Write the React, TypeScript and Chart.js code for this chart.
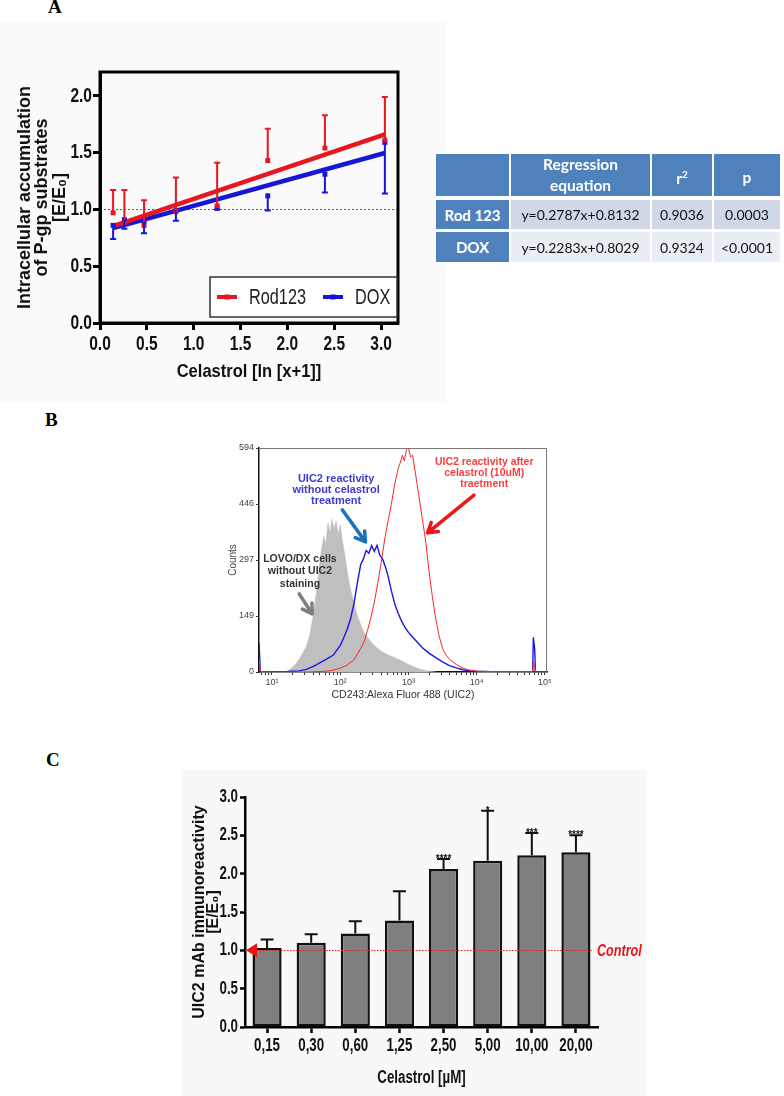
import React, { useEffect, useRef } from 'react';
import { Chart, registerables } from 'chart.js';

Chart.register(...registerables);

const SANS = "'Liberation Sans', Arial, Helvetica, sans-serif";
const NARROW = "'Liberation Sans Narrow', 'Liberation Sans', Arial, sans-serif";
const SEMI = "'Liberation Sans Semi Narrow', 'Liberation Sans', Arial, sans-serif";
const SERIF = "'Liberation Serif', 'Times New Roman', serif";
const TABLE_FONT = "Lato, 'Open Sans', sans-serif";

// ---------------- Panel A data ----------------
const aCelastrolLn = [0.14, 0.26, 0.47, 0.81, 1.25, 1.79, 2.40, 3.04];
const aRodMean = [0.97, 0.88, 0.86, 0.98, 1.03, 1.43, 1.54, 1.61];
const aRodUpper = [1.17, 1.17, 1.08, 1.28, 1.41, 1.71, 1.83, 1.99];
const aDoxMean = [0.86, 0.91, 0.89, 0.99, 1.01, 1.12, 1.31, 1.59];
const aDoxLower = [0.74, 0.83, 0.79, 0.90, 1.00, 0.99, 1.15, 1.14];
const aFitX = [0.14, 3.04];
const aRodFitY = [0.852, 1.660];
const aDoxFitY = [0.835, 1.497];
const aSeriesNames = ['Rod123', 'DOX'];
const aRefValue = 1.0;
const aXTitle = 'Celastrol [ln [x+1]]';
const aYTitle = ['Intracellular accumulation', 'of P-gp substrates', '[E/E\u2080]'];

// ---------------- Table data ----------------
const tRowNames = ['Rod 123', 'DOX'];
const tEquations = ['y=0.2787x+0.8132', 'y=0.2283x+0.8029'];
const tR2 = ['0.9036', '0.9324'];
const tP = ['0.0003', '<0.0001'];

// ---------------- Panel B data (log10 fluorescence, counts) ----------------
const bGrayLog = [1.20, 1.25, 1.30, 1.35, 1.40, 1.45, 1.50, 1.55, 1.60, 1.65, 1.70, 1.73, 1.76, 1.79, 1.82, 1.85, 1.88, 1.91, 1.94, 1.97, 2.00, 2.03, 2.06, 2.10, 2.15, 2.20, 2.25, 2.30, 2.35, 2.40, 2.45, 2.50, 2.60, 2.70, 2.80, 2.90, 3.00, 3.10, 3.20, 3.30, 3.40];
const bGrayCount = [0, 5, 12, 22, 35, 50, 66, 95, 145, 210, 290, 330, 360, 340, 395, 370, 405, 380, 400, 365, 390, 350, 320, 270, 220, 185, 150, 125, 105, 92, 80, 70, 55, 45, 38, 30, 20, 12, 6, 2, 0];
const bBlueLog = [0.81, 0.83, 1.00, 1.20, 1.30, 1.40, 1.50, 1.60, 1.70, 1.80, 1.90, 1.95, 2.00, 2.05, 2.10, 2.15, 2.20, 2.25, 2.30, 2.34, 2.38, 2.42, 2.46, 2.50, 2.54, 2.58, 2.62, 2.66, 2.70, 2.75, 2.80, 2.85, 2.90, 2.95, 3.00, 3.05, 3.10, 3.15, 3.20, 3.30, 3.40, 3.50, 3.60, 3.70, 3.80, 3.90, 4.00, 4.20, 4.50, 4.82, 4.83, 4.85, 4.86, 5.02];
const bBlueCount = [77, 1, 1, 1, 2, 3, 7, 14, 24, 34, 45, 58, 70, 90, 112, 140, 180, 235, 285, 300, 322, 315, 335, 320, 336, 310, 300, 280, 255, 215, 180, 155, 135, 118, 105, 95, 85, 75, 65, 50, 38, 27, 17, 11, 6, 3, 2, 1, 1, 1, 92, 60, 0, 0];
const bRedLog = [0.81, 0.83, 1.00, 1.50, 1.80, 1.90, 2.00, 2.10, 2.20, 2.30, 2.35, 2.40, 2.45, 2.50, 2.55, 2.60, 2.65, 2.70, 2.75, 2.80, 2.85, 2.88, 2.91, 2.94, 2.97, 3.00, 3.03, 3.06, 3.10, 3.15, 3.20, 3.25, 3.30, 3.35, 3.40, 3.45, 3.50, 3.55, 3.60, 3.70, 3.80, 3.90, 4.00, 4.30, 4.82, 4.83, 4.85, 4.86, 5.02];
const bRedCount = [37, 1, 0, 0, 2, 5, 10, 18, 32, 62, 80, 110, 145, 185, 235, 290, 350, 400, 445, 500, 540, 555, 575, 560, 590, 594, 570, 575, 530, 470, 410, 350, 270, 200, 140, 95, 62, 45, 34, 20, 10, 5, 2, 1, 1, 26, 15, 0, 0];
const bLogMin = 0.81;
const bLogMax = 5.03;
const bCountTicks = [0, 148.5, 297, 445.5, 594];
const bCountLabels = ['0', '149', '297', '446', '594'];
const bMajorTicks = [10, 100, 1000, 10000, 100000];
const bMajorLabels = ['10\u00b9', '10\u00b2', '10\u00b3', '10\u2074', '10\u2075'];
const bXTitle = 'CD243:Alexa Fluor 488 (UIC2)';
const bYTitle = 'Counts';
const bNoteLines = [
  ['UIC2 reactivity', 'without celastrol', 'treatment'],
  ['UIC2 reactivity after', 'celastrol (10uM)', 'traetment'],
  ['LOVO/DX cells', 'without UIC2', 'staining'],
];
const bNoteLog = [1.94, 4.11, 1.41];
const bNoteCount = [512, 557, 300];
const bNoteColor = ['#3b3bd4', '#ff3a3a', '#333333'];
const bArrowFrom = [[2.03, 430], [3.96, 469], [1.40, 207]];
const bArrowTo = [[2.37, 345], [3.28, 369], [1.59, 154]];
const bArrowColor = ['#1c72b8', '#ee1616', '#808080'];

// ---------------- Panel C data ----------------
const cConcLabels = ['0,15', '0,30', '0,60', '1,25', '2,50', '5,00', '10,00', '20,00'];
const cMean = [1.03, 1.10, 1.22, 1.39, 2.06, 2.17, 2.24, 2.28];
const cUpper = [1.14, 1.21, 1.38, 1.77, 2.19, 2.82, 2.53, 2.50];
const cStars = ['', '', '', '', '****', '*', '***', '****'];
const cControlValue = 1.0;
const cControlLabel = 'Control';
const cXTitle = 'Celastrol [\u00b5M]';
const cYTitle = ['UIC2 mAb immunoreactivity', '[E/E\u2080]'];

const A_RED = '#e8161e';
const A_BLUE = '#1616d8';

// condensed text: scale glyphs horizontally for the "narrow" families
function condenseText(ctx: any) {
  const orig = ctx.fillText;
  ctx.fillText = function (text: string, x: number, y: number, maxWidth?: number) {
    const f = String(ctx.font);
    const k = f.indexOf('Semi') >= 0 ? 0.87 : f.indexOf('Narrow') >= 0 ? 0.74 : 1;
    if (k === 1) {
      return maxWidth === undefined ? orig.call(ctx, text, x, y) : orig.call(ctx, text, x, y, maxWidth);
    }
    ctx.save();
    ctx.translate(x, y);
    ctx.scale(k, 1);
    if (maxWidth === undefined) orig.call(ctx, text, 0, 0);
    else orig.call(ctx, text, 0, 0, maxWidth / k);
    ctx.restore();
  };
}

// ---------------- plugins ----------------
const errorBarPlugin = {
  id: 'errorBars',
  afterDatasetsDraw(chart: any) {
    const ctx = chart.ctx;
    chart.data.datasets.forEach((ds: any, i: number) => {
      if (!ds.errEnds) return;
      const meta = chart.getDatasetMeta(i);
      const yScale = chart.scales[meta.yAxisID];
      ctx.save();
      ctx.strokeStyle = ds.errColor;
      ctx.lineWidth = ds.errWidth;
      meta.data.forEach((el: any, j: number) => {
        const x = el.x;
        const y0 = el.y;
        const y1 = yScale.getPixelForValue(ds.errEnds[j]);
        ctx.beginPath();
        ctx.moveTo(x, y0);
        ctx.lineTo(x, y1);
        ctx.moveTo(x - ds.capHalf, y1);
        ctx.lineTo(x + ds.capHalf, y1);
        ctx.stroke();
        if (ds.stars && ds.stars[j]) {
          ctx.fillStyle = '#111';
          ctx.font = `bold 10px ${SANS}`;
          ctx.textAlign = 'center';
          ctx.textBaseline = 'alphabetic';
          ctx.fillText(ds.stars[j], x, y1 + 3);
        }
      });
      ctx.restore();
    });
  },
};

const aDecorPlugin = {
  id: 'aDecor',
  beforeDatasetsDraw(chart: any) {
    const { ctx, chartArea: ca } = chart;
    const y = Math.round(chart.scales.y.getPixelForValue(aRefValue)) + 0.5;
    ctx.save();
    ctx.strokeStyle = '#ee2222';
    ctx.lineWidth = 1;
    ctx.setLineDash([2, 2]);
    ctx.beginPath();
    ctx.moveTo(ca.left, y);
    ctx.lineTo(ca.right, y);
    ctx.stroke();
    ctx.restore();
  },
  afterDraw(chart: any) {
    const { ctx, chartArea: ca } = chart;
    ctx.save();
    ctx.strokeStyle = '#000';
    ctx.lineWidth = 3;
    ctx.strokeRect(ca.left, ca.top, ca.right - ca.left, ca.bottom - ca.top);
    // legend
    const bx = ca.right - 188;
    const by = ca.bottom - 46;
    ctx.fillStyle = '#ffffff';
    ctx.fillRect(bx, by, 187, 40);
    ctx.strokeStyle = '#333';
    ctx.lineWidth = 1.5;
    ctx.strokeRect(bx, by, 187, 40);
    const cols = [A_RED, A_BLUE];
    const offs = [7, 113];
    aSeriesNames.forEach((name, i) => {
      const x = bx + offs[i];
      const y = by + 20;
      ctx.strokeStyle = cols[i];
      ctx.lineWidth = 4;
      ctx.beginPath();
      ctx.moveTo(x, y);
      ctx.lineTo(x + 20, y);
      ctx.stroke();
      ctx.fillStyle = cols[i];
      ctx.fillRect(x + 7.5, y - 2.5, 5, 5);
      ctx.fillStyle = '#222';
      ctx.font = `22px ${NARROW}`;
      ctx.textAlign = 'left';
      ctx.textBaseline = 'middle';
      ctx.fillText(name, x + 32, y + 1);
    });
    ctx.restore();
  },
};

function drawArrow(ctx: any, x0: number, y0: number, x1: number, y1: number, color: string) {
  ctx.strokeStyle = color;
  ctx.lineWidth = 3.5;
  ctx.lineCap = 'round';
  ctx.lineJoin = 'round';
  ctx.beginPath();
  ctx.moveTo(x0, y0);
  ctx.lineTo(x1, y1);
  const a = Math.atan2(y1 - y0, x1 - x0);
  [-0.55, 0.55].forEach((d) => {
    ctx.moveTo(x1, y1);
    ctx.lineTo(x1 - 11 * Math.cos(a + d), y1 - 11 * Math.sin(a + d));
  });
  ctx.stroke();
}

const bDecorPlugin = {
  id: 'bDecor',
  afterDatasetsDraw(chart: any) {
    const { ctx, chartArea: ca } = chart;
    const xs = chart.scales.x;
    const ys = chart.scales.y;
    ctx.save();
    ctx.strokeStyle = '#777';
    ctx.lineWidth = 1;
    ctx.beginPath();
    ctx.moveTo(ca.left, ca.top + 0.5);
    ctx.lineTo(ca.right - 0.5, ca.top + 0.5);
    ctx.lineTo(ca.right - 0.5, ca.bottom);
    ctx.stroke();
    bNoteLines.forEach((lines, i) => {
      const x = xs.getPixelForValue(Math.pow(10, bNoteLog[i]));
      const y = ys.getPixelForValue(bNoteCount[i]);
      ctx.fillStyle = bNoteColor[i];
      ctx.font = `bold ${i === 0 ? 11 : 10.5}px ${SANS}`;
      ctx.textAlign = 'center';
      ctx.textBaseline = 'middle';
      const gap = i === 2 ? 12.5 : 11;
      lines.forEach((t, k) => ctx.fillText(t, x, y + k * gap));
    });
    bArrowFrom.forEach((f, i) => {
      const t = bArrowTo[i];
      drawArrow(
        ctx,
        xs.getPixelForValue(Math.pow(10, f[0])),
        ys.getPixelForValue(f[1]),
        xs.getPixelForValue(Math.pow(10, t[0])),
        ys.getPixelForValue(t[1]),
        bArrowColor[i]
      );
    });
    ctx.restore();
  },
};

const cControlPlugin = {
  id: 'cControl',
  afterDatasetsDraw(chart: any) {
    const { ctx, chartArea: ca } = chart;
    const yv = chart.scales.y.getPixelForValue(cControlValue);
    const y = Math.round(yv) + 0.5;
    ctx.save();
    ctx.strokeStyle = '#e52020';
    ctx.lineWidth = 1;
    ctx.setLineDash([1.5, 1.5]);
    ctx.beginPath();
    ctx.moveTo(ca.left, y);
    ctx.lineTo(ca.right - 5, y);
    ctx.stroke();
    ctx.setLineDash([]);
    ctx.fillStyle = '#ee1111';
    ctx.beginPath();
    ctx.moveTo(ca.left + 1, yv);
    ctx.lineTo(ca.left + 12, yv - 7);
    ctx.lineTo(ca.left + 12, yv + 7);
    ctx.closePath();
    ctx.fill();
    ctx.font = `italic bold 17px ${NARROW}`;
    ctx.textAlign = 'left';
    ctx.textBaseline = 'middle';
    ctx.fillStyle = '#e81414';
    ctx.fillText(cControlLabel, ca.right - 1, yv + 1);
    ctx.restore();
  },
};

// ---------------- configs ----------------
const baseOpts = {
  animation: false,
  responsive: false,
  devicePixelRatio: 1,
  events: [],
};

function configA(): any {
  const pts = (ys: number[]) => aCelastrolLn.map((x, i) => ({ x, y: ys[i] }));
  const fit = (ys: number[]) => aFitX.map((x, i) => ({ x, y: ys[i] }));
  const tickFont = { family: NARROW, size: 21, weight: 'bold' };
  return {
    type: 'scatter',
    data: {
      datasets: [
        { label: aSeriesNames[0], data: pts(aRodMean), errEnds: aRodUpper, errColor: A_RED, errWidth: 2, capHalf: 3, pointStyle: 'rect', pointRadius: 3.5, backgroundColor: A_RED, borderColor: A_RED, borderWidth: 0 },
        { label: aSeriesNames[1], data: pts(aDoxMean), errEnds: aDoxLower, errColor: A_BLUE, errWidth: 2, capHalf: 3, pointStyle: 'rect', pointRadius: 3.5, backgroundColor: A_BLUE, borderColor: A_BLUE, borderWidth: 0 },
        { label: aSeriesNames[0] + ' fit', data: fit(aRodFitY), showLine: true, borderColor: A_RED, borderWidth: 4.5, pointRadius: 0 },
        { label: aSeriesNames[1] + ' fit', data: fit(aDoxFitY), showLine: true, borderColor: A_BLUE, borderWidth: 4.5, pointRadius: 0 },
      ],
    },
    options: {
      ...baseOpts,
      layout: { padding: { left: 0, top: 72, right: 47, bottom: 0 } },
      plugins: { legend: { display: false }, tooltip: { enabled: false } },
      scales: {
        x: {
          type: 'linear', min: 0, max: 3.18,
          afterFit: (s: any) => { s.height = 79; },
          ticks: { stepSize: 0.5, includeBounds: false, callback: (v: any) => Number(v).toFixed(1), font: tickFont, color: '#111', padding: 2, maxRotation: 0 },
          grid: { drawOnChartArea: false, drawTicks: true, tickLength: 7, tickWidth: 3, tickColor: '#000' },
          border: { display: true, color: '#000', width: 3 },
          title: { display: true, text: aXTitle, font: { family: SEMI, size: 19, weight: 'bold', lineHeight: 1.2 }, color: '#111', padding: { top: 0, bottom: 19 } },
        },
        y: {
          type: 'linear', min: 0, max: 2.21,
          afterFit: (s: any) => { s.width = 100; },
          ticks: { stepSize: 0.5, includeBounds: false, callback: (v: any) => Number(v).toFixed(1), font: tickFont, color: '#111', padding: 1 },
          grid: { drawOnChartArea: false, drawTicks: true, tickLength: 7, tickWidth: 3, tickColor: '#000' },
          border: { display: true, color: '#000', width: 3 },
          title: { display: true, text: aYTitle, font: { family: SANS, size: 18, weight: 'bold', lineHeight: '17.5px' }, color: '#111', padding: { top: 16, bottom: 0 } },
        },
      },
    },
    plugins: [aDecorPlugin, errorBarPlugin],
  };
}

function configB(): any {
  const hist = (logs: number[], counts: number[]) => logs.map((l, i) => ({ x: Math.pow(10, l), y: counts[i] }));
  const minorTicks: number[] = [];
  [1, 10, 100, 1000, 10000].forEach((d) => {
    [2, 3, 4, 5, 6, 7, 8, 9].forEach((m) => minorTicks.push(m * d));
  });
  const xMin = Math.pow(10, bLogMin);
  const xMax = Math.pow(10, bLogMax);
  const allX = bMajorTicks.concat(minorTicks).filter((v) => v >= xMin && v <= xMax).sort((a, b) => a - b);
  const tickFont = { family: SANS, size: 9 };
  return {
    type: 'line',
    data: {
      datasets: [
        { label: 'after celastrol', data: hist(bRedLog, bRedCount), borderColor: '#ff2424', borderWidth: 1, pointRadius: 0, fill: false },
        { label: 'without celastrol', data: hist(bBlueLog, bBlueCount), borderColor: '#1818e0', borderWidth: 1.4, pointRadius: 0, fill: false },
        { label: 'unstained', data: hist(bGrayLog, bGrayCount), borderColor: '#bdbdbd', borderWidth: 0.5, backgroundColor: '#bfbfbf', pointRadius: 0, fill: 'origin' },
      ],
    },
    options: {
      ...baseOpts,
      layout: { padding: { left: 0, top: 8, right: 13, bottom: 0 } },
      plugins: { legend: { display: false }, tooltip: { enabled: false } },
      scales: {
        x: {
          type: 'logarithmic', min: xMin, max: xMax,
          afterFit: (s: any) => { s.height = 38; },
          afterBuildTicks: (s: any) => { s.ticks = allX.map((v) => ({ value: v, major: bMajorTicks.indexOf(v) >= 0 })); },
          ticks: { autoSkip: false, maxRotation: 0, callback: (v: any) => { const k = bMajorTicks.indexOf(Number(v)); return k >= 0 ? bMajorLabels[k] : ''; }, font: tickFont, color: '#444', padding: 2 },
          grid: { drawOnChartArea: false, drawTicks: true, tickLength: 3, tickWidth: 1, tickColor: '#333' },
          border: { display: true, color: '#111', width: 1.5 },
          title: { display: true, text: bXTitle, font: { family: SANS, size: 10.5, lineHeight: 1.2 }, color: '#333', padding: { top: 0, bottom: 8.7 } },
        },
        y: {
          type: 'linear', min: 0, max: 594,
          afterFit: (s: any) => { s.width = 59; },
          afterBuildTicks: (s: any) => { s.ticks = bCountTicks.map((v) => ({ value: v })); },
          ticks: { autoSkip: false, callback: (_v: any, i: number) => bCountLabels[i], font: tickFont, color: '#444', padding: 2 },
          grid: { drawOnChartArea: false, drawTicks: true, tickLength: 3, tickWidth: 1, tickColor: '#333' },
          border: { display: true, color: '#111', width: 1.5 },
          title: { display: true, text: bYTitle, font: { family: SANS, size: 10, lineHeight: 1.2 }, color: '#444', padding: { top: 27, bottom: 0 } },
        },
      },
    },
    plugins: [bDecorPlugin],
  };
}

function configC(): any {
  const tickFont = { family: NARROW, size: 18, weight: 'bold' };
  return {
    type: 'bar',
    data: {
      labels: cConcLabels,
      datasets: [
        { label: 'UIC2', data: cMean, errEnds: cUpper, stars: cStars, errColor: '#111', errWidth: 2, capHalf: 6.5, backgroundColor: '#7f7f7f', borderColor: '#111', borderWidth: 2.5, borderSkipped: false, barPercentage: 0.66, categoryPercentage: 1 },
      ],
    },
    options: {
      ...baseOpts,
      layout: { padding: { left: 0, top: 37, right: 52, bottom: 0 } },
      plugins: { legend: { display: false }, tooltip: { enabled: false } },
      scales: {
        x: {
          afterFit: (s: any) => { s.height = 69; },
          ticks: { font: tickFont, color: '#111', padding: 2, maxRotation: 0, autoSkip: false },
          grid: { offset: false, drawOnChartArea: false, drawTicks: true, tickLength: 6, tickWidth: 2.5, tickColor: '#000' },
          border: { display: true, color: '#000', width: 2.5 },
          title: { display: true, text: cXTitle, font: { family: NARROW, size: 18, weight: 'bold', lineHeight: '20px' }, color: '#111', padding: { top: 0, bottom: 8 } },
        },
        y: {
          min: 0, max: 3.0,
          afterFit: (s: any) => { s.width = 95; },
          ticks: { stepSize: 0.5, callback: (v: any) => Number(v).toFixed(1), font: tickFont, color: '#111', padding: 2 },
          grid: { drawOnChartArea: false, drawTicks: true, tickLength: 5, tickWidth: 2.5, tickColor: '#000' },
          border: { display: true, color: '#000', width: 2.5 },
          title: { display: true, text: cYTitle, font: { family: SANS, size: 16, weight: 'bold', lineHeight: '14px' }, color: '#111', padding: { top: 43, bottom: 0 } },
        },
      },
    },
    plugins: [errorBarPlugin, cControlPlugin],
  };
}

// ---------------- components ----------------
function ChartCanvas({ make, left, top, width, height }: any) {
  const ref = useRef<HTMLCanvasElement>(null);
  useEffect(() => {
    const canvas = ref.current as HTMLCanvasElement;
    condenseText(canvas.getContext('2d'));
    const chart = new Chart(canvas, make());
    return () => chart.destroy();
  }, []);
  return <canvas ref={ref} width={width} height={height} style={{ position: 'absolute', left, top, width, height }} />;
}

function PanelLetter({ text, left, top }: any) {
  return (
    <div style={{ position: 'absolute', left, top, font: `bold 19px ${SERIF}`, lineHeight: '19px', color: '#000' }}>{text}</div>
  );
}

function RegressionTable() {
  const colX = [436, 511, 652, 714];
  const colW = [73, 139, 60, 66];
  const rowY = [154, 200, 232];
  const rowH = [42, 29, 30];
  const HEAD = '#4f81bd';
  const rowBg = ['#d0d8e8', '#e9edf4'];
  const cell = (key: string, c: number, r: number, bg: string, content: any, style: any = {}) => (
    <div key={key} style={{ position: 'absolute', left: colX[c], top: rowY[r], width: colW[c], height: rowH[r], background: bg, display: 'flex', alignItems: 'center', justifyContent: 'center', textAlign: 'center', fontFamily: TABLE_FONT, ...style }}>{content}</div>
  );
  const headStyle = { color: '#fff', fontWeight: 700, fontSize: 15.5, lineHeight: '21px' };
  const cells: any[] = [];
  cells.push(cell('h0', 0, 0, HEAD, ''));
  cells.push(cell('h1', 1, 0, HEAD, <span>Regression<br />equation</span>, headStyle));
  cells.push(cell('h2', 2, 0, HEAD, <span style={{ marginTop: 4 }}>r<sup style={{ fontSize: 10 }}>2</sup></span>, headStyle));
  cells.push(cell('h3', 3, 0, HEAD, <span style={{ marginTop: 4 }}>p</span>, headStyle));
  tRowNames.forEach((name, i) => {
    const r = i + 1;
    cells.push(cell(`n${i}`, 0, r, HEAD, name, { color: '#fff', fontWeight: 700, fontSize: 15 }));
    cells.push(cell(`e${i}`, 1, r, rowBg[i], tEquations[i], { color: '#111', fontSize: 14 }));
    cells.push(cell(`r${i}`, 2, r, rowBg[i], tR2[i], { color: '#111', fontSize: 14 }));
    cells.push(cell(`p${i}`, 3, r, rowBg[i], tP[i], { color: '#111', fontSize: 14 }));
  });
  return <>{cells}</>;
}

export default function App() {
  return (
    <div style={{ position: 'absolute', left: 0, top: 0, width: 784, height: 1096, background: '#fff', overflow: 'hidden' }}>
      <div style={{ position: 'absolute', left: 0, top: 22, width: 445, height: 380, background: '#fafafa' }} />
      <div style={{ position: 'absolute', left: 182, top: 770, width: 465, height: 326, background: '#f8f8f8' }} />
      <PanelLetter text="A" left={48} top={-3} />
      <PanelLetter text="B" left={45} top={410} />
      <PanelLetter text="C" left={46} top={750} />
      <ChartCanvas make={configA} left={0} top={0} width={445} height={402} />
      <RegressionTable />
      <ChartCanvas make={configB} left={200} top={440} width={360} height={270} />
      <ChartCanvas make={configC} left={150} top={760} width={500} height={336} />
    </div>
  );
}
